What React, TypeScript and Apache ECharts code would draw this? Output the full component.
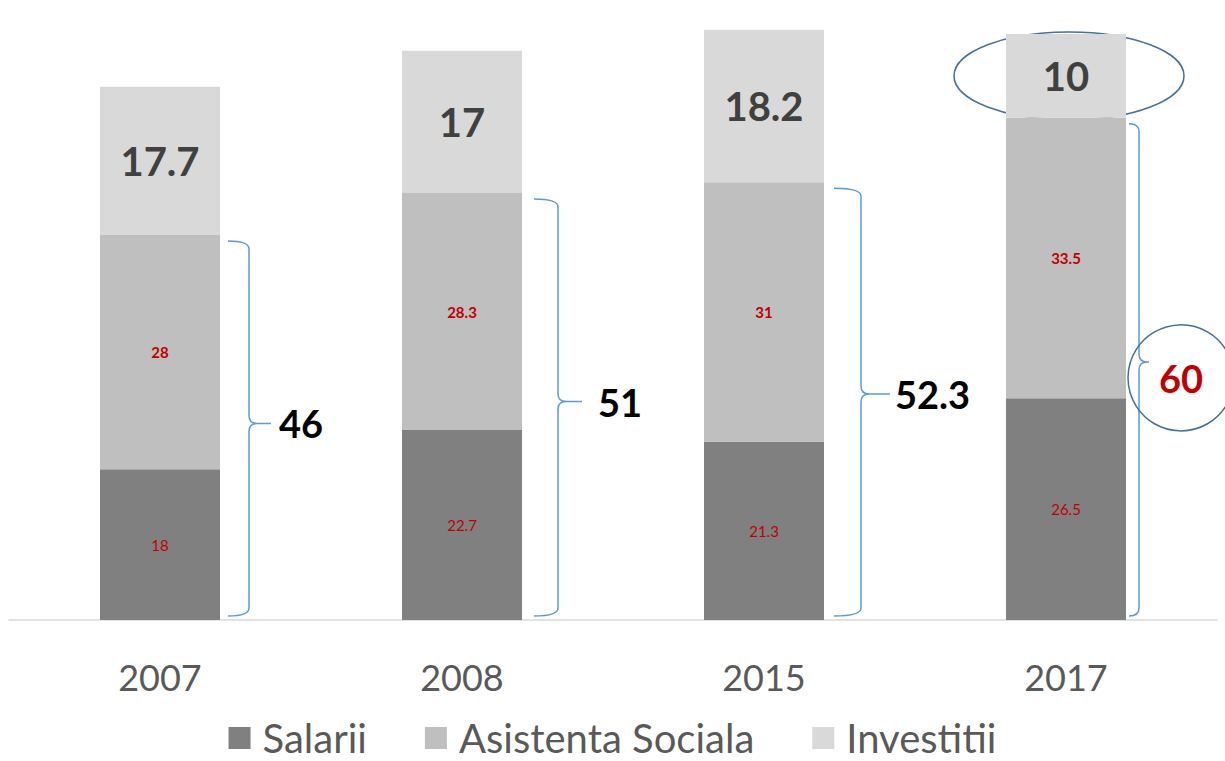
import React, { useEffect, useRef } from "react";
import * as echarts from "echarts";

const categories = ["2007", "2008", "2015", "2017"];
const salarii = [18, 22.7, 21.3, 26.5];
const asistenta = [28, 28.3, 31, 33.5];
const investitii = [17.7, 17, 18.2, 10];
const totals = [46, 51, 52.3, 60];
const highlighted = [false, false, false, true];

// brace geometry per category (pixels): gap from bar, arm, tip length, text gap
const BRACE = [
  { gap: 8, arm: 21, tip: 22, text: 8, dy: -5 },
  { gap: 12, arm: 24, tip: 24, text: 16, dy: -6 },
  { gap: 10, arm: 27, tip: 29, text: 5, dy: -8 },
  { gap: 3, arm: 10, tip: 10, text: 10, dy: -8 },
];

const FONT = "Lato, 'Open Sans', sans-serif";
const BAR_W = 120;

export default function App() {
  const ref = useRef<HTMLDivElement>(null);
  useEffect(() => {
    if (!ref.current) return;
    const chart = echarts.init(ref.current, null, { renderer: "svg" });
    const option: any = {
      animation: false,
      backgroundColor: "#ffffff",
      grid: { left: 9, right: 8, top: 17.3, bottom: 141 },
      legend: {
        data: ["Salarii", "Asistenta Sociala", "Investitii"],
        bottom: 3,
        padding: 0,
        left: "center",
        itemWidth: 22,
        itemHeight: 22,
        itemGap: 58,
        icon: "rect",
        textStyle: {
          fontFamily: FONT,
          fontSize: 40,
          color: "#595959",
          padding: [0, 0, 0, 7],
        },
      },
      xAxis: {
        type: "category",
        data: categories,
        axisLine: { lineStyle: { color: "#D9D9D9", width: 1.5 } },
        axisTick: { show: false },
        axisLabel: {
          fontFamily: FONT,
          fontSize: 36,
          color: "#595959",
          margin: 39,
        },
      },
      yAxis: {
        type: "value",
        min: 0,
        max: 72,
        show: false,
        splitLine: { show: false },
      },
      series: [
        {
          name: "Salarii",
          type: "bar",
          stack: "total",
          barWidth: BAR_W,
          data: salarii,
          itemStyle: { color: "#808080" },
          label: {
            show: true,
            position: "inside",
            color: "#C00000",
            fontFamily: FONT,
            fontSize: 15,
          },
        },
        {
          name: "Asistenta Sociala",
          type: "bar",
          stack: "total",
          barWidth: BAR_W,
          data: asistenta,
          itemStyle: { color: "#BFBFBF" },
          label: {
            show: true,
            position: "inside",
            color: "#C00000",
            fontFamily: FONT,
            fontSize: 15,
            fontWeight: "bold",
          },
        },
        {
          name: "Investitii",
          type: "bar",
          stack: "total",
          barWidth: BAR_W,
          data: investitii,
          itemStyle: { color: "#D9D9D9" },
          label: {
            show: true,
            position: "inside",
            color: "#404040",
            fontFamily: FONT,
            fontSize: 40,
            fontWeight: "bold",
          },
        },
        {
          name: "annot",
          type: "custom",
          clip: false,
          silent: true,
          data: totals.map((t, i) => [i, t, investitii[i]]),
          renderItem: (params: any, api: any) => {
            const i = api.value(0);
            const t = api.value(1);
            const inv = api.value(2);
            const base = api.coord([i, 0]);
            const top = api.coord([i, t]);
            const s = BRACE[i];
            const cx = base[0];
            const xs = cx + BAR_W / 2 + s.gap;
            const xv = xs + s.arm;
            const xt = xv + s.tip;
            const yT = top[1] + 6;
            const yB = base[1] - 4;
            const yM = (yT + yB) / 2 + s.dy;
            const r = 8;
            const d =
              `M${xs},${yT} Q${xv},${yT} ${xv},${yT + r} L${xv},${yM - r} ` +
              `Q${xv},${yM} ${xv + r},${yM} L${xt},${yM} ` +
              `M${xv + r},${yM} Q${xv},${yM} ${xv},${yM + r} L${xv},${yB - r} ` +
              `Q${xv},${yB} ${xs},${yB}`;
            const hl = highlighted[i];
            const children: any[] = [
              {
                type: "path",
                shape: { pathData: d },
                style: { stroke: "#5B9BD5", lineWidth: 1.5, fill: "none" },
              },
            ];
            const tx = xt + s.text;
            const ty = hl ? yM + 16 : yM;
            children.push({
              type: "text",
              style: {
                text: String(t),
                x: tx,
                y: ty,
                align: "left",
                verticalAlign: "middle",
                fill: hl ? "#C00000" : "#000000",
                fontFamily: FONT,
                fontSize: 38,
                fontWeight: "bold",
              },
            });
            if (hl) {
              children.push({
                type: "circle",
                shape: { cx: tx + 22, cy: ty, r: 53 },
                style: { stroke: "#41719C", lineWidth: 1.5, fill: "none" },
              });
              const ec = api.coord([i, t + inv / 2]);
              children.push({
                type: "ellipse",
                shape: { cx: ec[0] + 3, cy: ec[1], rx: 115, ry: 44 },
                style: { stroke: "#41719C", lineWidth: 1.5, fill: "none" },
              });
            }
            return { type: "group", children };
          },
        },
      ],
    };
    chart.setOption(option);
    return () => chart.dispose();
  }, []);
  return (
    <div
      ref={ref}
      style={{ position: "absolute", left: 0, top: 0, width: 1225, height: 761 }}
    />
  );
}
